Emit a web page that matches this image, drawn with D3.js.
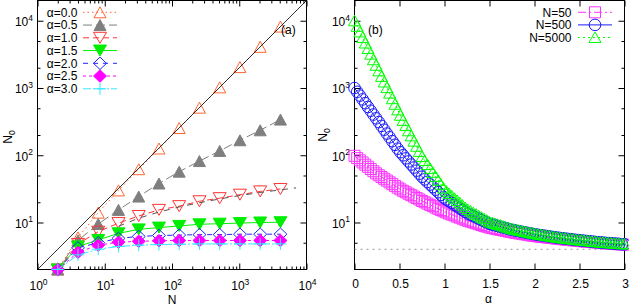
<!DOCTYPE html>
<html><head><meta charset="utf-8">
<script src="https://cdn.jsdelivr.net/npm/d3@7"></script>
<style>
body{margin:0;background:#fff}
text{font-family:"Liberation Sans",Arial,Helvetica,sans-serif;fill:#000}
</style>
</head><body><svg id="c" width="629" height="307" xmlns="http://www.w3.org/2000/svg"></svg>
<script>
// ---------------- DATA ----------------
// Panel (a): N0 versus N for several alpha
const Nvals   = [2, 4, 8, 16, 32, 64, 128, 256, 512, 1024, 2048, 4096];
const alpha00 = [2, 6, 14, 30, 62, 126, 254, 510, 1022, 2046, 4094, 8190];
const alpha05 = [2, 5.4, 9.5, 15.4, 24.3, 38, 57, 82, 116, 167, 235, 339];
const alpha10 = [2, 4.8, 7.3, 9.8, 12.5, 15.4, 17.5, 20.7, 23, 25.9, 29, 31.5];
const alpha15 = [2, 4.4, 5.5, 6.9, 7.9, 8.4, 8.9, 9.4, 9.6, 9.8, 10, 10.1];
const alpha20 = [2, 4.2, 5.0, 5.8, 6.2, 6.4, 6.5, 6.6, 6.6, 6.7, 6.7, 6.7];
const alpha25 = [2, 3.6, 4.6, 5.1, 5.25, 5.35, 5.4, 5.4, 5.4, 5.4, 5.4, 5.4];
const alpha30 = [2, 3.3, 4.0, 4.4, 4.6, 4.7, 4.75, 4.8, 4.8, 4.8, 4.8, 4.8];
const alphaLabels = ["α=0.0","α=0.5","α=1.0","α=1.5","α=2.0","α=2.5","α=3.0"];
// reference line N0 = 2N and dashed fit for alpha=1
const diagN  = [1, 10000];
const diagN0 = [2, 20000];
const fitN   = [16, 32, 64, 128, 256, 512, 1024, 2048, 4096, 7000];
const fitN0  = [8.8, 11.6, 14.3, 17.0, 19.7, 22.4, 25.2, 27.9, 30.6, 32.7];

// Panel (b): N0 versus alpha for three N
const alphaGrid = [0,0.03,0.06,0.09,0.12,0.15,0.18,0.21,0.24,0.27,0.3,0.33,0.36,0.39,0.42,0.45,0.48,0.51,0.54,0.57,0.6,0.63,0.66,0.69,0.72,0.75,0.78,0.81,0.84,0.87,0.9,0.93,0.96,0.99,1.02,1.05,1.08,1.11,1.14,1.17,1.2,1.23,1.26,1.29,1.32,1.35,1.38,1.41,1.44,1.47,1.5,1.53,1.56,1.59,1.62,1.65,1.68,1.71,1.74,1.77,1.8,1.83,1.86,1.89,1.92,1.95,1.98,2.01,2.04,2.07,2.1,2.13,2.16,2.19,2.22,2.25,2.28,2.31,2.34,2.37,2.4,2.43,2.46,2.49,2.52,2.55,2.58,2.61,2.64,2.67,2.7,2.73,2.76,2.79,2.82,2.85,2.88,2.91,2.94,2.97,3];
const n50   = [98,90.7,84.1,78.2,72.4,67.3,62.5,57.9,53.8,50.4,47.4,44.7,42.0,39.5,37.2,35.0,33.0,31.1,29.6,28.1,26.8,25.5,24.3,23.1,22.0,20.9,20.0,19.1,18.3,17.5,16.7,16.0,15.3,14.7,14.1,13.6,13.1,12.7,12.2,11.8,11.4,11.0,10.6,10.3,10.0,9.72,9.44,9.18,8.91,8.66,8.41,8.26,8.09,7.94,7.78,7.64,7.50,7.35,7.21,7.09,6.98,6.87,6.78,6.67,6.58,6.47,6.37,6.28,6.22,6.15,6.08,6.01,5.94,5.89,5.82,5.75,5.70,5.65,5.58,5.53,5.48,5.43,5.38,5.32,5.28,5.24,5.19,5.15,5.11,5.07,5.02,4.98,4.94,4.91,4.88,4.84,4.81,4.78,4.74,4.71,4.68];
const n500  = [998,878,771,677,595,522,459,403,354,311,273,240,210,185,162,143,125,111,99.8,89.8,80.9,72.8,65.6,59.0,53.2,47.9,43.8,40.1,36.7,33.6,30.8,28.2,25.8,23.6,22.0,20.7,19.5,18.3,17.3,16.2,15.3,14.4,13.6,13.0,12.5,11.9,11.4,10.9,10.4,9.98,9.55,9.31,9.08,8.87,8.65,8.43,8.22,8.02,7.83,7.67,7.53,7.40,7.26,7.13,7.01,6.89,6.76,6.65,6.56,6.47,6.38,6.30,6.21,6.12,6.04,5.96,5.89,5.82,5.76,5.70,5.64,5.57,5.51,5.46,5.40,5.35,5.30,5.25,5.19,5.14,5.09,5.05,5.00,4.97,4.93,4.90,4.86,4.83,4.80,4.76,4.73];
const n5000 = [9998,8260,6823,5645,4667,3855,3184,2630,2178,1799,1486,1228,1014,839,693,573,473,393,330,276,231,194,162,136,114,95.5,83.4,72.8,63.7,55.6,48.5,42.4,37.0,32.4,29.3,27.0,24.9,23.0,21.3,19.6,18.1,16.7,15.6,14.8,14.0,13.3,12.6,12.0,11.4,10.8,10.2,9.94,9.66,9.38,9.12,8.85,8.59,8.36,8.11,7.93,7.78,7.64,7.48,7.35,7.20,7.06,6.93,6.80,6.70,6.61,6.50,6.40,6.31,6.21,6.12,6.03,5.96,5.89,5.83,5.77,5.70,5.64,5.57,5.52,5.46,5.41,5.36,5.31,5.25,5.20,5.15,5.11,5.06,5.02,4.99,4.95,4.92,4.89,4.85,4.82,4.79];
const nLabels = ["N=50","N=500","N=5000"];
const floorLevel = 4;

// tick values
const xLogMajor = [1, 10, 100, 1000, 10000];
const xLogExp   = ["0","1","2","3","4"];
const yLogMajor = [10, 100, 1000, 10000];
const yLogExp   = ["1","2","3","4"];
const yLogMinor = [5, 20, 50, 200, 500, 2000, 5000];
const xLinTicks = [0, 0.5, 1, 1.5, 2, 2.5, 3];
const xLinLabels = ["0","0.5","1","1.5","2","2.5","3"];

// ---------------- DRAWING ----------------
const svg = d3.select("#c");
const L = {x0:37.5, x1:306.5, y0:0.5, y1:269.5};
const R = {x0:354.5, x1:624.5, y0:0.5, y1:269.5};

const xA = d3.scaleLog().domain([1, 1e4]).range([L.x0, L.x1]);
const yA = d3.scaleLog().domain([2, 2e4]).range([L.y1, L.y0]);
const xB = d3.scaleLinear().domain([0, 3]).range([R.x0, R.x1]);
const yB = d3.scaleLog().domain([2, 2e4]).range([R.y1, R.y0]);

const xLogMinor = [];
xLogMajor.slice(0, -1).forEach(d => { for (let k = 2; k <= 9; k++) xLogMinor.push(d * k); });

function marker(type) {
  switch (type) {
    case "triU": return "M0,-5.5L6,5.5L-6,5.5Z";
    case "triD": return "M0,5.5L6.5,-5.5L-6.5,-5.5Z";
    case "diamond": return "M0,-6.2L6.5,0L0,6.2L-6.5,0Z";
    case "plus": return "M-6,0H6M0,-6V6";
    case "square": return "M-5.5,-5.5H5.5V5.5H-5.5Z";
    case "circle": return "M5.8,0A5.8,5.8 0 1,1 -5.8,0A5.8,5.8 0 1,1 5.8,0Z";
    case "triUs": return "M0,-5.5L6,5L-6,5Z";
  }
}

function drawAxes(P, xs, ys, logX) {
  const g = svg.append("g");
  const strip = sel => { sel.select(".domain").remove(); sel.selectAll("line").attr("stroke","#000").attr("stroke-width",1); };
  if (logX) {
    g.append("g").attr("transform",`translate(0,${P.y1})`).call(d3.axisBottom(xs).tickValues(xLogMajor).tickSize(-6).tickFormat("")).call(strip);
    g.append("g").attr("transform",`translate(0,${P.y1})`).call(d3.axisBottom(xs).tickValues(xLogMinor).tickSize(-3).tickFormat("")).call(strip);
    g.append("g").attr("transform",`translate(0,${P.y0})`).call(d3.axisTop(xs).tickValues(xLogMajor).tickSize(-6).tickFormat("")).call(strip);
    g.append("g").attr("transform",`translate(0,${P.y0})`).call(d3.axisTop(xs).tickValues(xLogMinor).tickSize(-3).tickFormat("")).call(strip);
  } else {
    g.append("g").attr("transform",`translate(0,${P.y1})`).call(d3.axisBottom(xs).tickValues(xLinTicks).tickSize(-6).tickFormat("")).call(strip);
    g.append("g").attr("transform",`translate(0,${P.y0})`).call(d3.axisTop(xs).tickValues(xLinTicks).tickSize(-6).tickFormat("")).call(strip);
  }
  g.append("g").attr("transform",`translate(${P.x0},0)`).call(d3.axisLeft(ys).tickValues(yLogMajor).tickSize(-6).tickFormat("")).call(strip);
  g.append("g").attr("transform",`translate(${P.x0},0)`).call(d3.axisLeft(ys).tickValues(yLogMinor).tickSize(-3).tickFormat("")).call(strip);
  g.append("g").attr("transform",`translate(${P.x1},0)`).call(d3.axisRight(ys).tickValues(yLogMajor).tickSize(-6).tickFormat("")).call(strip);
  g.append("g").attr("transform",`translate(${P.x1},0)`).call(d3.axisRight(ys).tickValues(yLogMinor).tickSize(-3).tickFormat("")).call(strip);
  g.append("rect").attr("x",P.x0).attr("y",P.y0).attr("width",P.x1-P.x0).attr("height",P.y1-P.y0)
    .attr("fill","none").attr("stroke","#000").attr("stroke-width",1);
  // y labels
  yLogMajor.forEach((v,i) => {
    const t = g.append("text").attr("x", P.x0 - 4.5).attr("y", ys(v) + 5.5).attr("text-anchor","end").attr("font-size",12);
    t.append("tspan").text("10");
    t.append("tspan").attr("dy",-5.5).attr("font-size",8.5).text(yLogExp[i]);
  });
  if (logX) {
    xLogMajor.forEach((v,i) => {
      const t = g.append("text").attr("x", xs(v) + 1).attr("y", 290).attr("text-anchor","middle").attr("font-size",12);
      t.append("tspan").text("10");
      t.append("tspan").attr("dy",-5.5).attr("font-size",8.5).text(xLogExp[i]);
    });
  } else {
    xLinTicks.forEach((v,i) => {
      g.append("text").attr("x", xs(v) + 1).attr("y", 288).attr("text-anchor","middle").attr("font-size",12).text(xLinLabels[i]);
    });
  }
}

function drawSeries(g, xs, ys, xv, yv, s) {
  const pts = xv.map((x,i) => [x, yv[i]]);
  const line = d3.line().x(d => xs(d[0])).y(d => ys(d[1]));
  g.append("path").attr("d", line(pts)).attr("fill","none").attr("stroke", s.color)
    .attr("stroke-width", 1).attr("stroke-dasharray", s.dash || null);
  g.selectAll(null).data(pts).enter().append("path")
    .attr("transform", d => `translate(${xs(d[0])},${ys(d[1])})`)
    .attr("d", marker(s.marker))
    .attr("fill", s.filled ? s.color : "none")
    .attr("stroke", s.color).attr("stroke-width", 1);
}

function legendRow(g, xText, xl0, xl1, y, label, s) {
  g.append("text").attr("x", xText).attr("y", y + 4.3).attr("text-anchor","end").attr("font-size",12).text(label);
  g.append("line").attr("x1", xl0).attr("x2", xl1).attr("y1", y).attr("y2", y)
    .attr("stroke", s.color).attr("stroke-width",1).attr("stroke-dasharray", s.dash || null);
  g.append("path").attr("transform", `translate(${(xl0+xl1)/2},${y})`).attr("d", marker(s.marker))
    .attr("fill", s.filled ? s.color : "none").attr("stroke", s.color).attr("stroke-width",1);
}

// ---- Panel (a)
drawAxes(L, xA, yA, true);
const seriesA = [
  {vals: alpha00, color:"#ff6633", dash:"1.5,3", marker:"triU", filled:false},
  {vals: alpha05, color:"#7f7f7f", dash:"9,4", marker:"triU", filled:true},
  {vals: alpha10, color:"#ff3333", dash:"6,4", marker:"triD", filled:false},
  {vals: alpha15, color:"#00ee00", dash:null, marker:"triD", filled:true},
  {vals: alpha20, color:"#2222ff", dash:"5,5", marker:"diamond", filled:false},
  {vals: alpha25, color:"#ff00ff", dash:"3,3", marker:"diamond", filled:true},
  {vals: alpha30, color:"#33e8ff", dash:"8,2,2,2", marker:"plus", filled:false}
];
const gA = svg.append("g");
seriesA.forEach(s => drawSeries(gA, xA, yA, Nvals, s.vals, s));
// diagonal reference and fit
const lineA = d3.line().x(d => xA(d[0])).y(d => yA(d[1]));
gA.append("path").attr("d", lineA(diagN.map((n,i)=>[n, diagN0[i]]))).attr("stroke","#000").attr("stroke-width",0.8).attr("fill","none");
gA.append("path").attr("d", lineA(fitN.map((n,i)=>[n, fitN0[i]]))).attr("stroke","#555").attr("stroke-width",1).attr("stroke-dasharray","6,6").attr("fill","none");
// legend (a)
const legA = svg.append("g");
seriesA.forEach((s,i) => legendRow(legA, 77.5, 83, 117, 12.3 + i*12.75, alphaLabels[i], s));
svg.append("text").attr("x",281).attr("y",34).attr("font-size",12).text("(a)");
// axis labels (a)
svg.append("text").attr("x",172).attr("y",303.5).attr("text-anchor","middle").attr("font-size",12).text("N");
const ylA = svg.append("text").attr("transform","translate(11.5,137) rotate(-90)").attr("text-anchor","middle").attr("font-size",12);
ylA.append("tspan").text("N");
ylA.append("tspan").attr("dy",3).attr("font-size",8.5).text("0");

// ---- Panel (b)
drawAxes(R, xB, yB, false);
const gB = svg.append("g");
gB.append("path").attr("d", d3.line().x(d=>xB(d)).y(()=>yB(floorLevel))(xB.domain()))
  .attr("stroke","#999").attr("stroke-width",1).attr("stroke-dasharray","2,4").attr("fill","none");
const seriesB = [
  {vals: n50,   color:"#ff33ff", dash:"8,3,2,3", marker:"square", filled:false},
  {vals: n500,  color:"#1a1aff", dash:null, marker:"circle", filled:false},
  {vals: n5000, color:"#00ff00", dash:"2,3", marker:"triUs", filled:false}
];
seriesB.forEach(s => drawSeries(gB, xB, yB, alphaGrid, s.vals, s));
const legB = svg.append("g");
seriesB.forEach((s,i) => legendRow(legB, 571.5, 578, 612, 12.3 + i*12.6, nLabels[i], s));
svg.append("text").attr("x",368).attr("y",34).attr("font-size",12).text("(b)");
svg.append("text").attr("x",488.5).attr("y",302.5).attr("text-anchor","middle").attr("font-size",12).text("α");
const ylB = svg.append("text").attr("transform","translate(327,135) rotate(-90)").attr("text-anchor","middle").attr("font-size",12);
ylB.append("tspan").text("N");
ylB.append("tspan").attr("dy",3).attr("font-size",8.5).text("0");
</script>
</body></html>
